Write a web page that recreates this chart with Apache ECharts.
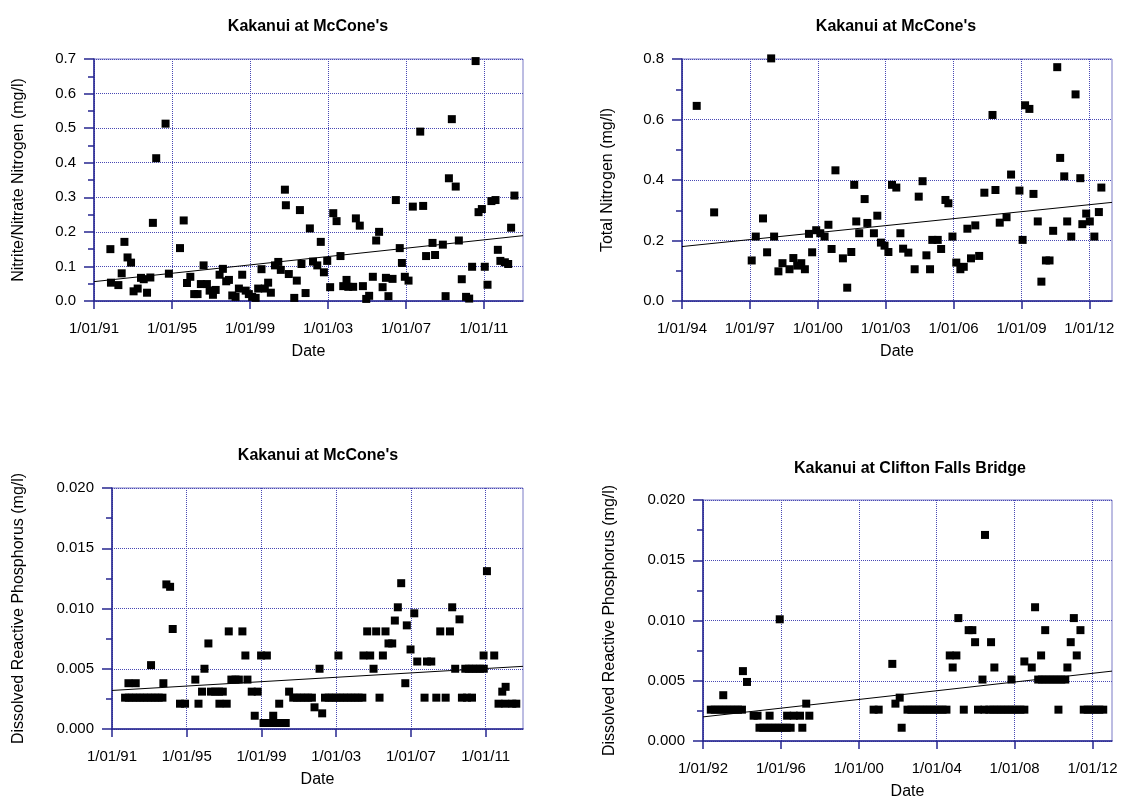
<!DOCTYPE html>
<html><head><meta charset="utf-8">
<script src="https://cdn.jsdelivr.net/npm/echarts@6/dist/echarts.min.js"></script>
<style>html,body{margin:0;padding:0;background:#fff}#c{width:1122px;height:801px}</style>
</head><body><div id="c"></div>
<script>
// ---------- DATA (dates as decimal years) ----------
const nitrateTitle = "Kakanui at McCone's";
const nitrateYName = 'Nitrite/Nitrate Nitrogen (mg/l)';
const nitrateTickYears = [1991, 1995, 1999, 2003, 2007, 2011];
const nitrateSamples = [[1991.84,0.150],[1991.87,0.053],[1992.25,0.046],[1992.42,0.080],[1992.56,0.171],[1992.72,0.126],[1992.90,0.111],[1993.03,0.028],[1993.24,0.036],[1993.41,0.067],[1993.55,0.063],[1993.72,0.024],[1993.89,0.068],[1994.02,0.226],[1994.19,0.413],[1994.67,0.513],[1994.84,0.079],[1995.41,0.153],[1995.60,0.233],[1995.77,0.052],[1995.94,0.070],[1996.14,0.020],[1996.31,0.020],[1996.48,0.049],[1996.62,0.103],[1996.79,0.049],[1996.93,0.030],[1997.10,0.018],[1997.24,0.032],[1997.44,0.076],[1997.61,0.093],[1997.78,0.057],[1997.92,0.061],[1998.09,0.016],[1998.26,0.012],[1998.43,0.036],[1998.60,0.076],[1998.78,0.030],[1998.94,0.020],[1999.11,0.012],[1999.29,0.009],[1999.42,0.036],[1999.59,0.092],[1999.76,0.036],[1999.93,0.053],[2000.07,0.024],[2000.28,0.103],[2000.45,0.113],[2000.58,0.090],[2000.79,0.322],[2000.84,0.277],[2000.99,0.078],[2001.27,0.009],[2001.40,0.059],[2001.56,0.263],[2001.64,0.107],[2001.85,0.023],[2002.07,0.210],[2002.23,0.114],[2002.45,0.103],[2002.63,0.171],[2002.79,0.083],[2002.96,0.116],[2003.11,0.040],[2003.27,0.254],[2003.44,0.231],[2003.64,0.130],[2003.78,0.043],[2003.95,0.061],[2004.04,0.041],[2004.29,0.041],[2004.43,0.239],[2004.63,0.218],[2004.79,0.043],[2004.96,0.006],[2005.11,0.015],[2005.30,0.070],[2005.47,0.175],[2005.62,0.200],[2005.80,0.040],[2005.97,0.067],[2006.10,0.014],[2006.31,0.064],[2006.48,0.292],[2006.68,0.153],[2006.79,0.110],[2006.94,0.070],[2007.13,0.059],[2007.35,0.273],[2007.73,0.490],[2007.88,0.275],[2008.03,0.130],[2008.36,0.168],[2008.49,0.133],[2008.89,0.163],[2009.03,0.014],[2009.20,0.355],[2009.35,0.526],[2009.55,0.331],[2009.71,0.175],[2009.86,0.063],[2010.08,0.012],[2010.24,0.007],[2010.39,0.099],[2010.57,0.694],[2010.72,0.257],[2010.89,0.266],[2011.04,0.099],[2011.18,0.047],[2011.38,0.289],[2011.59,0.292],[2011.71,0.148],[2011.84,0.116],[2012.07,0.112],[2012.24,0.107],[2012.39,0.212],[2012.56,0.305]];
const nitrateTrend = [[1991, 0.056], [2013, 0.189]];

const totalNTitle = "Kakanui at McCone's";
const totalNYName = 'Total Nitrogen (mg/l)';
const totalNTickYears = [1994, 1997, 2000, 2003, 2006, 2009, 2012];
const totalNSamples = [[1994.65,0.645],[1995.42,0.293],[1997.08,0.134],[1997.26,0.213],[1997.58,0.273],[1997.76,0.161],[1997.94,0.802],[1998.07,0.213],[1998.26,0.098],[1998.44,0.125],[1998.75,0.105],[1998.92,0.142],[1999.09,0.117],[1999.27,0.125],[1999.43,0.105],[1999.61,0.222],[1999.75,0.161],[1999.93,0.234],[2000.11,0.224],[2000.30,0.213],[2000.47,0.252],[2000.61,0.172],[2000.78,0.432],[2001.11,0.141],[2001.30,0.044],[2001.48,0.162],[2001.61,0.384],[2001.70,0.263],[2001.83,0.224],[2002.07,0.337],[2002.19,0.258],[2002.48,0.224],[2002.63,0.282],[2002.79,0.193],[2002.95,0.183],[2003.12,0.162],[2003.28,0.384],[2003.47,0.375],[2003.65,0.224],[2003.77,0.173],[2004.00,0.160],[2004.28,0.105],[2004.46,0.345],[2004.63,0.396],[2004.80,0.151],[2004.96,0.105],[2005.06,0.202],[2005.30,0.202],[2005.45,0.172],[2005.64,0.334],[2005.77,0.323],[2005.95,0.213],[2006.12,0.127],[2006.30,0.105],[2006.45,0.113],[2006.61,0.239],[2006.77,0.141],[2006.96,0.250],[2007.13,0.149],[2007.36,0.358],[2007.72,0.615],[2007.85,0.367],[2008.04,0.259],[2008.34,0.277],[2008.54,0.418],[2008.91,0.365],[2009.05,0.202],[2009.16,0.647],[2009.35,0.635],[2009.53,0.354],[2009.72,0.263],[2009.88,0.064],[2010.08,0.134],[2010.24,0.134],[2010.40,0.232],[2010.58,0.773],[2010.71,0.473],[2010.89,0.412],[2011.02,0.263],[2011.20,0.213],[2011.39,0.683],[2011.60,0.406],[2011.69,0.254],[2011.86,0.289],[2012.02,0.263],[2012.22,0.213],[2012.42,0.294],[2012.53,0.375]];
const totalNTrend = [[1994, 0.180], [2013, 0.326]];

const drpMcTitle = "Kakanui at McCone's";
const drpYName = 'Dissolved Reactive Phosphorus (mg/l)';
const drpMcTickYears = [1991, 1995, 1999, 2003, 2007, 2011];
const drpMcSamples = [[1991.7,0.0026],[1991.9,0.0026],[1992.1,0.0026],[1992.3,0.0026],[1992.5,0.0026],[1992.7,0.0026],[1992.9,0.0026],[1993.1,0.0026],[1993.3,0.0026],[1993.5,0.0026],[1993.7,0.0026],[1991.88,0.0038],[1992.27,0.0038],[1993.09,0.0053],[1993.75,0.0038],[1993.91,0.0120],[1994.11,0.0118],[1994.25,0.0083],[1994.64,0.0021],[1994.91,0.0021],[1995.46,0.0041],[1995.63,0.0021],[1995.82,0.0031],[1995.95,0.0050],[1996.16,0.0071],[1996.30,0.0031],[1996.52,0.0031],[1996.73,0.0031],[1996.93,0.0031],[1996.75,0.0021],[1997.14,0.0021],[1997.25,0.0081],[1997.39,0.0041],[1997.61,0.0041],[1997.79,0.0041],[1997.98,0.0081],[1998.14,0.0061],[1998.25,0.0041],[1998.48,0.0031],[1998.80,0.0031],[1998.64,0.0011],[1998.98,0.0061],[1999.29,0.0061],[1999.11,0.0005],[1999.38,0.0005],[1999.64,0.0005],[1999.91,0.0005],[2000.30,0.0005],[1999.63,0.0011],[1999.95,0.0021],[2000.48,0.0031],[2000.7,0.0026],[2000.9,0.0026],[2001.1,0.0026],[2001.3,0.0026],[2001.5,0.0026],[2001.7,0.0026],[2001.84,0.0018],[2002.25,0.0013],[2002.11,0.0050],[2002.4,0.0026],[2002.6,0.0026],[2002.8,0.0026],[2003.0,0.0026],[2003.2,0.0026],[2003.4,0.0026],[2003.6,0.0026],[2003.8,0.0026],[2004.0,0.0026],[2004.2,0.0026],[2004.4,0.0026],[2003.12,0.0061],[2004.46,0.0061],[2004.82,0.0061],[2005.0,0.0050],[2004.66,0.0081],[2005.14,0.0081],[2005.64,0.0081],[2005.32,0.0026],[2005.5,0.0061],[2005.8,0.0071],[2006.0,0.0071],[2006.14,0.0090],[2006.3,0.0101],[2006.48,0.0121],[2006.7,0.0038],[2006.78,0.0086],[2006.98,0.0066],[2007.18,0.0096],[2007.34,0.0056],[2007.86,0.0056],[2008.09,0.0056],[2007.73,0.0026],[2008.36,0.0026],[2008.86,0.0026],[2008.57,0.0081],[2009.09,0.0081],[2009.21,0.0101],[2009.37,0.0050],[2009.6,0.0091],[2009.73,0.0026],[2010.0,0.0026],[2010.27,0.0026],[2009.91,0.0050],[2010.1,0.0050],[2010.3,0.0050],[2010.5,0.0050],[2010.7,0.0050],[2010.9,0.0050],[2010.89,0.0061],[2011.46,0.0061],[2011.07,0.0131],[2011.69,0.0021],[2012.05,0.0021],[2012.43,0.0021],[2011.89,0.0031],[2012.07,0.0035],[2012.64,0.0021]];
const drpMcTrend = [[1991, 0.0032], [2013, 0.0052]];

const drpCfTitle = 'Kakanui at Clifton Falls Bridge';
const drpCfTickYears = [1992, 1996, 2000, 2004, 2008, 2012];
const drpCfSamples = [[1992.4,0.0026],[1992.6,0.0026],[1992.8,0.0026],[1993.0,0.0026],[1993.2,0.0026],[1993.4,0.0026],[1993.6,0.0026],[1993.8,0.0026],[1994.0,0.0026],[1993.04,0.0038],[1994.05,0.0058],[1994.26,0.0049],[1994.6,0.0021],[1994.8,0.0021],[1995.42,0.0021],[1994.9,0.0011],[1995.1,0.0011],[1995.3,0.0011],[1995.5,0.0011],[1995.7,0.0011],[1995.9,0.0011],[1996.1,0.0011],[1996.3,0.0011],[1996.5,0.0011],[1995.94,0.0101],[1996.32,0.0021],[1996.66,0.0021],[1996.98,0.0021],[1997.46,0.0021],[1997.1,0.0011],[1997.3,0.0031],[2000.76,0.0026],[2001.02,0.0026],[2001.72,0.0064],[2001.88,0.0031],[2002.1,0.0036],[2002.2,0.0011],[2002.5,0.0026],[2002.7,0.0026],[2002.9,0.0026],[2003.1,0.0026],[2003.3,0.0026],[2003.5,0.0026],[2003.7,0.0026],[2003.9,0.0026],[2004.1,0.0026],[2004.3,0.0026],[2004.5,0.0026],[2004.67,0.0071],[2005.01,0.0071],[2004.82,0.0061],[2005.11,0.0102],[2005.39,0.0026],[2005.64,0.0092],[2005.83,0.0092],[2005.97,0.0082],[2006.12,0.0026],[2006.45,0.0026],[2006.35,0.0051],[2006.48,0.0171],[2006.79,0.0082],[2006.96,0.0061],[2006.7,0.0026],[2006.9,0.0026],[2007.1,0.0026],[2007.3,0.0026],[2007.5,0.0026],[2007.7,0.0026],[2007.9,0.0026],[2008.1,0.0026],[2008.3,0.0026],[2008.5,0.0026],[2007.84,0.0051],[2008.5,0.0066],[2008.88,0.0061],[2009.05,0.0111],[2009.21,0.0051],[2009.36,0.0071],[2009.57,0.0092],[2009.4,0.0051],[2009.6,0.0051],[2009.8,0.0051],[2010.0,0.0051],[2010.2,0.0051],[2010.4,0.0051],[2010.6,0.0051],[2010.25,0.0026],[2010.71,0.0061],[2010.88,0.0082],[2011.04,0.0102],[2011.19,0.0071],[2011.38,0.0092],[2011.55,0.0026],[2011.75,0.0026],[2011.95,0.0026],[2012.15,0.0026],[2012.35,0.0026],[2012.55,0.0026]];
const drpCfTrend = [[1992, 0.0020], [2013, 0.0058]];

// ---------- LAYOUT / STYLE ----------
const FONT = '"Liberation Sans", Arial, sans-serif';
const NAVY = '#262690';
const BORDER = '#7b7bc6';
const GRIDC = '#4848b4';

const panels = [
  {title: nitrateTitle, yName: nitrateYName, ticks: nitrateTickYears, samples: nitrateSamples, trend: nitrateTrend,
   start: 1991, end: 2013, step: 4, ymax: 0.7, yint: 0.1, ydec: 1,
   grid: {left: 94, top: 59, width: 429, height: 242}, titleX: 308, titleY: 19, yGap: 67},
  {title: totalNTitle, yName: totalNYName, ticks: totalNTickYears, samples: totalNSamples, trend: totalNTrend,
   start: 1994, end: 2013, step: 3, ymax: 0.8, yint: 0.2, ydec: 1,
   grid: {left: 682, top: 59, width: 430, height: 242}, titleX: 896, titleY: 19, yGap: 66},
  {title: drpMcTitle, yName: drpYName, ticks: drpMcTickYears, samples: drpMcSamples, trend: drpMcTrend,
   start: 1991, end: 2013, step: 4, ymax: 0.02, yint: 0.005, ydec: 3,
   grid: {left: 112, top: 488, width: 411, height: 241}, titleX: 318, titleY: 448, yGap: 85},
  {title: drpCfTitle, yName: drpYName, ticks: drpCfTickYears, samples: drpCfSamples, trend: drpCfTrend,
   start: 1992, end: 2013, step: 4, ymax: 0.02, yint: 0.005, ydec: 3,
   grid: {left: 703, top: 500, width: 409, height: 243}, titleX: 910, titleY: 461, yGap: 85}
];

const option = {
  animation: false,
  backgroundColor: '#fff',
  textStyle: {fontFamily: FONT},
  title: [], grid: [], xAxis: [], yAxis: [], series: []
};

panels.forEach((p, i) => {
  const base = p.start;
  const tickOffsets = p.ticks.map(y => y - base);
  option.title.push({
    text: p.title, left: p.titleX, top: p.titleY, textAlign: 'center', padding: 0,
    textStyle: {fontFamily: FONT, fontSize: 16, fontWeight: 'bold', color: '#000'}
  });
  option.grid.push(Object.assign({show: true, borderColor: BORDER, borderWidth: 1, backgroundColor: 'transparent'}, p.grid));
  option.xAxis.push({
    gridIndex: i, type: 'value', min: 0, max: p.end - base, interval: p.step,
    name: 'Date', nameLocation: 'middle', nameGap: 43,
    nameTextStyle: {fontFamily: FONT, fontSize: 16, color: '#000'},
    axisLine: {show: true, onZero: false, lineStyle: {color: NAVY, width: 1.5}},
    axisTick: {show: true, length: 8, lineStyle: {color: NAVY, width: 1.5}, customValues: tickOffsets},
    axisLabel: {margin: 20, fontFamily: FONT, fontSize: 15, color: '#000', customValues: tickOffsets,
      formatter: v => '1/01/' + String(Math.round(base + v) % 100).padStart(2, '0')},
    splitLine: {show: true, lineStyle: {color: GRIDC, type: 'dotted', width: 1}}
  });
  option.yAxis.push({
    gridIndex: i, type: 'value', min: 0, max: p.ymax, interval: p.yint,
    name: p.yName, nameLocation: 'middle', nameGap: p.yGap,
    nameTextStyle: {fontFamily: FONT, fontSize: 16, color: '#000'},
    axisLine: {show: true, onZero: false, lineStyle: {color: NAVY, width: 1.5}},
    axisTick: {show: true, length: 10, lineStyle: {color: NAVY, width: 1.5}},
    minorTick: {show: true, splitNumber: 2, length: 6, lineStyle: {color: NAVY, width: 1.5}},
    axisLabel: {margin: 18, fontFamily: FONT, fontSize: 15, color: '#000', formatter: v => v.toFixed(p.ydec)},
    splitLine: {show: true, lineStyle: {color: GRIDC, type: 'dotted', width: 1}}
  });
  option.series.push({
    type: 'scatter', xAxisIndex: i, yAxisIndex: i, symbol: 'rect', symbolSize: 8, clip: false,
    itemStyle: {color: '#000', opacity: 1}, data: p.samples.map(d => [d[0] - base, d[1]]), z: 3
  });
  option.series.push({
    type: 'line', xAxisIndex: i, yAxisIndex: i, symbol: 'none', silent: true,
    lineStyle: {color: '#000', width: 1}, data: p.trend.map(d => [d[0] - base, d[1]]), z: 4
  });
});

const chart = echarts.init(document.getElementById('c'), null, {renderer: 'canvas'});
chart.setOption(option);
</script>
</body></html>
